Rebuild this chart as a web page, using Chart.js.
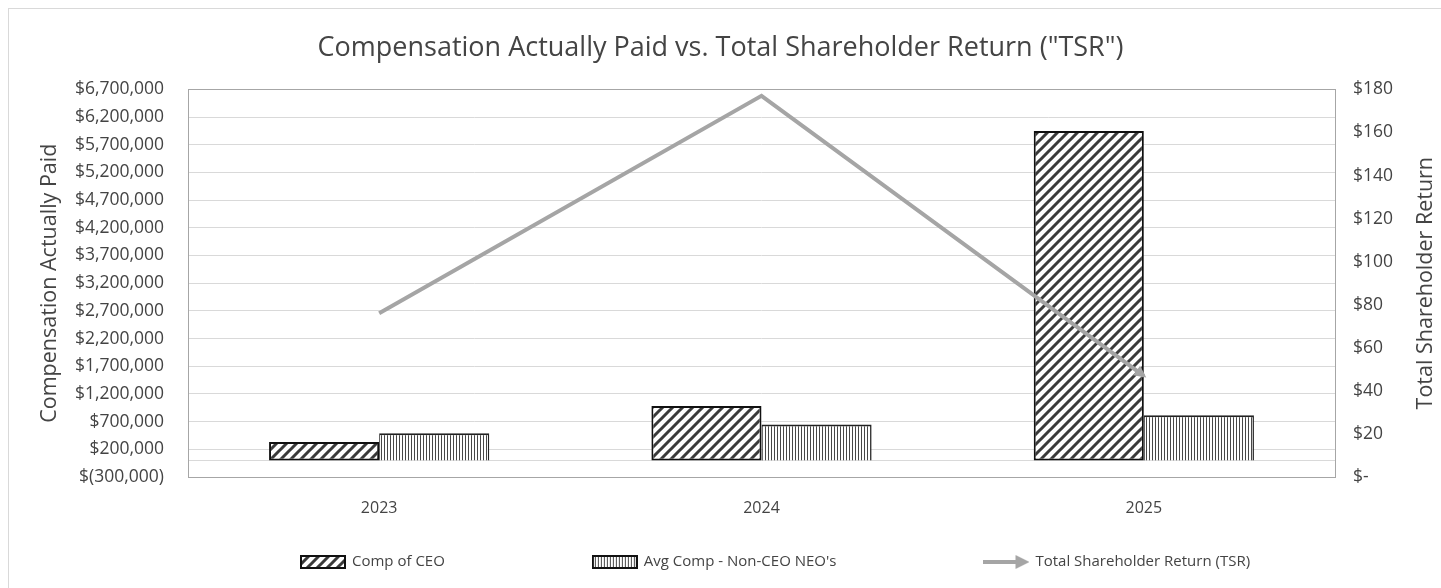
<!DOCTYPE html>
<html>
<head>
<meta charset="utf-8">
<title>Compensation Actually Paid vs. TSR</title>
<script src="https://cdn.jsdelivr.net/npm/chart.js@4.4.1/dist/chart.umd.min.js"></script>
<style>
    html, body { margin: 0; padding: 0; background: #fff; overflow: hidden; }
    #frame {
        position: absolute; left: 8px; top: 8px;
        width: 1460px; height: 600px;
        border-left: 1px solid #d9d9d9; border-top: 1px solid #d9d9d9;
    }
    #wrap { position: absolute; left: 0; top: 0; width: 1441px; height: 588px; }
</style>
</head>
<body>
<div id="frame"></div>
<div id="wrap"><canvas id="capChart" width="1441" height="588"></canvas></div>
<script>
// Compensation Actually Paid vs TSR

const years = ['2023', '2024', '2025'];
const ceoComp = [330000, 980000, 5950000];
const neoComp = [490000, 650000, 815000];
const tsrValues = [76, 177, 47];

const leftTicks = { min: -300000, max: 6700000, step: 500000 };
const rightTicks = { min: 0, max: 180, step: 20 };

const seriesNames = ['Comp of CEO', "Avg Comp - Non-CEO NEO's", 'Total Shareholder Return (TSR)'];

const FONT = "'Open Sans', 'Noto Sans', sans-serif";
const TEXT = '#444444';
const GRID = '#d9d9d9';
const TSR_GRAY = '#a5a5a5';

// --- hatch patterns ---
function diagonalPattern() {
    const c = document.createElement('canvas');
    c.width = 10; c.height = 10;
    const g = c.getContext('2d');
    g.fillStyle = '#fff';
    g.fillRect(0, 0, 10, 10);
    g.strokeStyle = '#3a3a3a';
    g.lineWidth = 3;
    g.beginPath();
    g.moveTo(-2, 12); g.lineTo(12, -2);
    g.moveTo(-7, 7); g.lineTo(7, -7);
    g.moveTo(3, 17); g.lineTo(17, 3);
    g.stroke();
    return g.createPattern(c, 'repeat');
}

function verticalPattern() {
    const c = document.createElement('canvas');
    c.width = 3; c.height = 4;
    const g = c.getContext('2d');
    g.fillStyle = '#fff';
    g.fillRect(0, 0, 3, 4);
    g.fillStyle = '#484848';
    g.fillRect(0, 0, 1, 4);
    return g.createPattern(c, 'repeat');
}

const ceoFill = diagonalPattern();
const neoFill = verticalPattern();

// --- legend swatches ---
function boxSwatch(pattern) {
    const c = document.createElement('canvas');
    c.width = 46; c.height = 14;
    const g = c.getContext('2d');
    g.fillStyle = pattern;
    g.fillRect(0, 0, 46, 14);
    g.strokeStyle = '#111';
    g.lineWidth = 2;
    g.strokeRect(1, 1, 44, 12);
    return c;
}

function arrowSwatch() {
    const c = document.createElement('canvas');
    c.width = 46; c.height = 14;
    const g = c.getContext('2d');
    g.strokeStyle = TSR_GRAY;
    g.lineWidth = 4;
    g.beginPath();
    g.moveTo(0, 7); g.lineTo(34, 7);
    g.stroke();
    g.fillStyle = TSR_GRAY;
    g.beginPath();
    g.moveTo(46, 7); g.lineTo(32, 0); g.lineTo(32, 14);
    g.closePath();
    g.fill();
    return c;
}

const swatches = [boxSwatch(ceoFill), boxSwatch(neoFill), arrowSwatch()];

function formatDollars(v) {
    const s = Math.abs(v).toLocaleString('en-US');
    return v < 0 ? '$(' + s + ')' : '$' + s;
}

// zero line, plot frame, arrow head, right title, legend
const extras = {
    id: 'extras',
    beforeDatasetsDraw(chart) {
        const { ctx, chartArea } = chart;
        const y0 = chart.scales.y.getPixelForValue(0);
        ctx.save();
        ctx.strokeStyle = GRID;
        ctx.lineWidth = 1;
        ctx.beginPath();
        ctx.moveTo(chartArea.left, Math.round(y0) + 0.5);
        ctx.lineTo(chartArea.right, Math.round(y0) + 0.5);
        ctx.stroke();
        ctx.strokeStyle = '#a6a6a6';
        ctx.strokeRect(Math.round(chartArea.left) + 0.5, Math.round(chartArea.top) + 0.5,
            Math.round(chartArea.width), Math.round(chartArea.height));
        ctx.restore();
    },
    afterDatasetsDraw(chart) {
        const pts = chart.getDatasetMeta(2).data;
        const a = pts[pts.length - 2];
        const b = pts[pts.length - 1];
        const ang = Math.atan2(b.y - a.y, b.x - a.x);
        const ctx = chart.ctx;
        ctx.save();
        ctx.translate(b.x, b.y);
        ctx.rotate(ang);
        ctx.fillStyle = TSR_GRAY;
        ctx.beginPath();
        ctx.moveTo(3, 0);
        ctx.lineTo(-9, -6);
        ctx.lineTo(-9, 6);
        ctx.closePath();
        ctx.fill();
        ctx.restore();
    },
    afterDraw(chart) {
        const { ctx, chartArea, width, height } = chart;
        ctx.save();
        // right axis title, reading bottom to top like the left one
        ctx.fillStyle = TEXT;
        ctx.font = "21.5px " + FONT;
        ctx.textAlign = 'center';
        ctx.textBaseline = 'middle';
        ctx.translate(width - 15, (chartArea.top + chartArea.bottom) / 2);
        ctx.rotate(-Math.PI / 2);
        ctx.fillText('Total Shareholder Return', 0, 0);
        ctx.restore();

        // legend row
        ctx.save();
        ctx.font = "15px " + FONT;
        ctx.fillStyle = TEXT;
        ctx.textBaseline = 'middle';
        ctx.textAlign = 'left';
        const cy = height - 26;
        const gap = 147;
        let x = 300;
        seriesNames.forEach((name, i) => {
            const sw = swatches[i];
            ctx.drawImage(sw, x, Math.round(cy - sw.height / 2));
            ctx.fillText(name, x + sw.width + 6, cy);
            x += sw.width + 6 + ctx.measureText(name).width + gap;
        });
        ctx.restore();
    }
};

const chart = new Chart(document.getElementById('capChart'), {
    data: {
        labels: years,
        datasets: [
            {
                type: 'bar',
                label: seriesNames[0],
                data: ceoComp,
                backgroundColor: ceoFill,
                borderColor: '#111',
                borderWidth: 2,
                borderSkipped: false,
                yAxisID: 'y',
                order: 1
            },
            {
                type: 'bar',
                label: seriesNames[1],
                data: neoComp,
                backgroundColor: neoFill,
                borderColor: '#222',
                borderWidth: { top: 2, left: 1, right: 1.5, bottom: 0 },
                borderSkipped: false,
                yAxisID: 'y',
                order: 1
            },
            {
                type: 'line',
                label: seriesNames[2],
                data: tsrValues,
                borderColor: TSR_GRAY,
                borderWidth: 4,
                pointRadius: 0,
                tension: 0,
                yAxisID: 'y2',
                order: 0
            }
        ]
    },
    options: {
        responsive: false,
        animation: false,
        layout: { padding: { left: 0, right: 0, top: 0, bottom: 71 } },
        datasets: {
            bar: { categoryPercentage: 0.576, barPercentage: 1 }
        },
        plugins: {
            title: {
                display: true,
                text: 'Compensation Actually Paid vs. Total Shareholder Return ("TSR")',
                color: TEXT,
                font: { family: FONT, size: 27, weight: 'normal' },
                padding: { top: 32, bottom: 25 }
            },
            legend: { display: false },
            tooltip: { enabled: false }
        },
        scales: {
            x: {
                grid: { display: false },
                border: { display: false },
                ticks: { color: TEXT, font: { family: FONT, size: 16 }, padding: 14 },
                afterFit(scale) { scale.height = 40; }
            },
            y: {
                position: 'left',
                min: leftTicks.min,
                max: leftTicks.max,
                ticks: {
                    stepSize: leftTicks.step,
                    color: TEXT,
                    padding: 24,
                    font: { family: FONT, size: 17.5 },
                    callback: v => formatDollars(v)
                },
                grid: { color: GRID, drawTicks: false },
                border: { display: false },
                title: {
                    display: true,
                    text: 'Compensation Actually Paid',
                    color: TEXT,
                    font: { family: FONT, size: 21.5 },
                    padding: { top: 37, bottom: 0 }
                },
                afterFit(scale) { scale.width = 188; }
            },
            y2: {
                position: 'right',
                min: rightTicks.min,
                max: rightTicks.max,
                ticks: {
                    stepSize: rightTicks.step,
                    color: TEXT,
                    padding: 18,
                    font: { family: FONT, size: 17.5 },
                    callback: v => (v === 0 ? '$-' : '$' + v)
                },
                grid: { display: false, drawTicks: false },
                border: { display: false },
                afterFit(scale) { scale.width = 106; }
            }
        }
    },
    plugins: [extras]
});
</script>
</body>
</html>
